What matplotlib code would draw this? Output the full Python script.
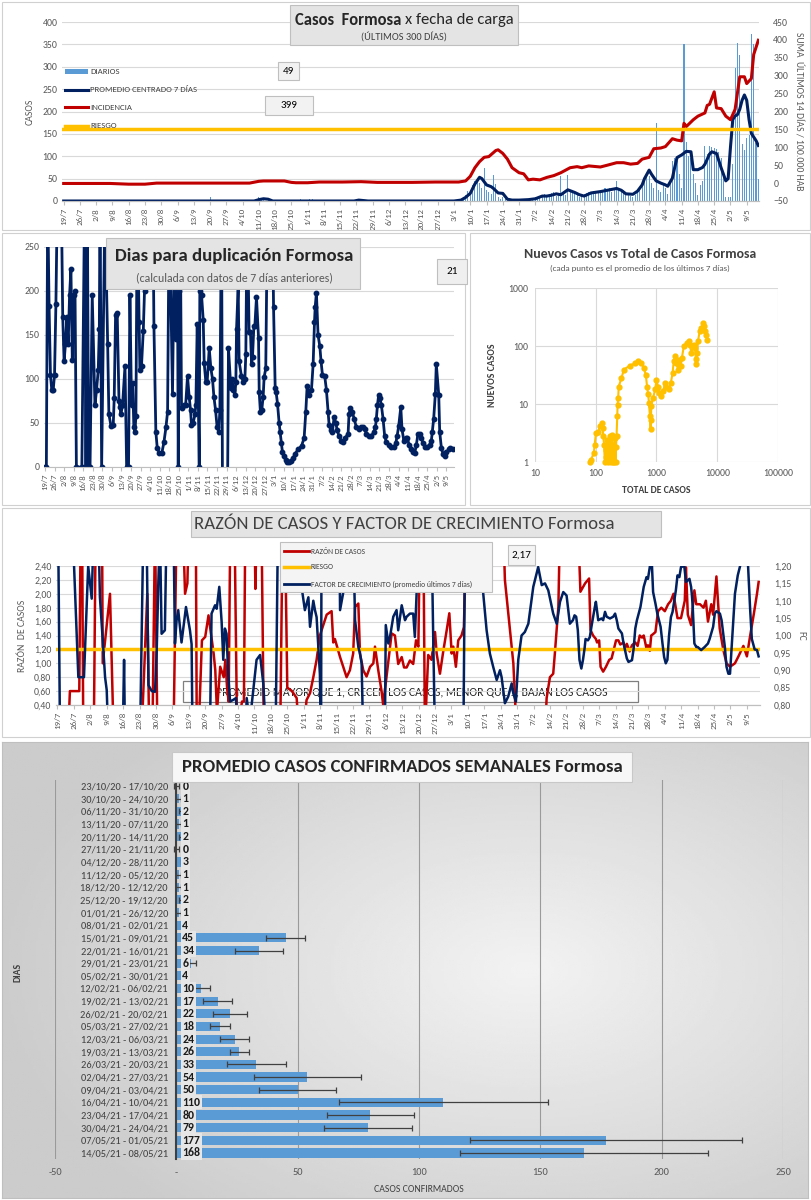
import numpy as np
import pandas as pd
import matplotlib
matplotlib.use("Agg")
import matplotlib.pyplot as plt
from matplotlib.patches import Rectangle
from matplotlib.lines import Line2D
from matplotlib.ticker import NullLocator

plt.rcParams['font.family'] = ['Carlito', 'Lato', 'DejaVu Sans']

# ---------------- datos ----------------
inicio = pd.Timestamp('2020-07-19')
semanas = np.arange(0, 300, 7)
etiquetas_fecha = [f"{d.day}/{d.month}" for d in pd.date_range(inicio, periods=len(semanas), freq='7D')]

# casos diarios (dia desde 19/7)
previos_dia = [63, 84, 85, 86, 102, 106, 107, 126, 150, 158, 163]
previos_val = [8, 10, 6, 3, 4, 5, 4, 5, 3, 3, 2]
diarios_2021 = [0, 1,
                0, 2, 3, 5, 8, 14, 22,
                18, 35, 45, 52, 40, 30, 74,
                25, 20, 15, 57, 37, 8, 5,
                10, 4, 6, 3, 2, 4, 3,
                2, 3, 1, 4, 3, 5, 6,
                8, 6, 10, 12, 15, 9, 14,
                18, 20, 12, 15, 55, 16, 14,
                58, 22, 18, 20, 14, 10, 12,
                15, 18, 20, 16, 22, 20, 18,
                24, 22, 28, 25, 30, 20, 26,
                45, 28, 22, 25, 18, 15, 12,
                10, 14, 20, 30, 45, 50, 60,
                55, 40, 30, 175, 25, 20, 35,
                28, 15, 40, 90, 95, 90, 60,
                30, 350, 132, 101, 95, 60, 40,
                13, 36, 45, 124, 105, 124, 120,
                118, 116, 110, 97, 60, 10, 10,
                10, 82, 297, 354, 327, 128, 115,
                140, 147, 373, 350, 130, 49]

prom_dia = [0, 82, 84, 86, 88, 90, 125, 127, 129, 131, 168, 171, 173, 175, 177, 179, 180, 182, 184, 185,
            187, 189, 191, 193, 196, 200, 203, 206, 208, 210, 212, 214, 217, 220, 222, 224, 227, 231, 234,
            238, 240, 242, 245, 247, 249, 250, 252, 253, 255, 257, 259, 260, 262, 263, 264, 266, 268, 270,
            271, 273, 275, 276, 278, 279, 281, 283, 285, 286, 287, 288, 289, 290, 291, 292, 293, 294, 295,
            296, 297, 298, 299]
prom_val = [0, 0, 3, 5, 4, 0, 0, 2, 1, 0, 0, 2, 8, 17, 38, 53, 50, 36, 32, 28,
            18, 17, 4, 2, 2, 3, 5, 11, 11, 13, 16, 14, 25, 19, 14, 11, 18, 21, 24,
            28, 24, 16, 15, 22, 36, 50, 69, 60, 45, 40, 36, 33, 51, 75, 97, 103, 111, 110,
            70, 70, 75, 82, 105, 110, 106, 74, 45, 50, 120, 182, 190, 193, 205, 225, 237, 225, 182,
            151, 143, 135, 124]

inc_dia = [0, 10, 20, 28, 35, 40, 60, 80, 84, 86, 95, 98, 100, 105, 110, 120, 128, 135, 150, 160, 166,
           170, 173, 175, 177, 179, 181, 183, 186, 187, 189, 191, 193, 196, 198, 200, 202, 205, 208, 211,
           214, 218, 221, 223, 226, 231, 234, 238, 241, 244, 247, 249, 252, 254, 257, 259, 262, 264, 266,
           267, 268, 271, 273, 276, 277, 278, 280, 281, 283, 285, 287, 289, 291, 293, 294, 296, 297, 299]
inc_val = [-1, -1, -1, -3, -3, 0, 0, 0, 5, 6, 6, 2, 1, 1, 3, 3, 4, 2, 2, 3, 3,
           3, 6, 19, 43, 60, 72, 74, 91, 93, 83, 67, 43, 29, 26, 9, 11, 9, 16, 21,
           29, 43, 46, 43, 48, 45, 50, 57, 57, 53, 55, 67, 72, 96, 98, 102, 124, 120, 118,
           167, 158, 177, 187, 196, 217, 220, 255, 210, 208, 187, 177, 206, 297, 297, 278, 292, 359, 399]

# dias para duplicacion
dup_dia = [0, 1, 2, 3, 4, 5, 6, 7, 8, 9, 12, 13, 14, 15, 16, 17, 18, 19, 20, 21, 22, 23, 27, 29, 30, 31,
           32, 33, 34.6, 36.6, 37.8, 39, 39.8, 40.3, 41.5, 43.9, 45.9, 46.8, 48.3, 50, 50.7, 51.7, 52.9,
           54.2, 54.9, 55.6, 56.8, 58.6, 59.8, 61.2, 62.2, 63.4, 64.2, 65.1, 65.9, 66.6, 67.6, 69, 69.5,
           70.7, 72, 72.9, 74, 79, 79.8, 81.2, 82.2, 83.7, 85.6, 87.1, 88.6, 89.8, 91, 93.4, 95.1, 95.6,
           96.4, 97.1, 97.6, 98.3, 99, 100, 101.7, 103, 104.4, 105.6, 106.6, 107.3, 108.6, 109.8, 110.5,
           111.5, 113, 113.4, 114.7, 115.9, 116.6, 117.8, 118.8, 120.3, 121.5, 122.7, 123.7, 124.9, 126.1,
           127.3, 128.1, 129.3, 130, 133.7, 134.4, 136.1, 137.1, 137.8, 139.1, 139.8, 140.3, 141.5, 142.2,
           143.9, 145.2, 146.4, 147.1, 148.1, 149.5, 150.5, 151.3, 152, 153, 153.7, 154.9, 156.4, 156.9,
           157.8, 158.8, 159.8, 160.5, 161.7, 163, 166.6, 167.4, 168.6, 169.3, 170.3, 171.5, 172.2, 173.2,
           173.9, 174.9, 176.4, 177.6, 178.8, 180, 181.8, 183.2, 185.4, 187.9, 189.8, 191, 192, 193.2,
           195.2, 196.4, 197.4, 197.9, 198.8, 200, 201.3, 202.2, 203.2, 204.9, 206.1, 207.4, 208.1, 209.3,
           210.5, 211.8, 213, 214, 215.4, 217.1, 218.3, 220, 222, 222.7, 223.7, 225.2, 226.4, 228.1, 230.1,
           231.8, 233, 234.2, 235.4, 237.4, 239.1, 240.8, 242, 242.7, 243.5, 244.4, 245.4, 246.4, 247.6,
           248.8, 250.1, 252, 253.7, 255.7, 256.9, 257.9, 259.1, 260.6, 261.5, 262.8, 264.2, 265.4, 266.7,
           267.9, 269.6, 270.8, 272, 273.2, 274.5, 275.7, 276.9, 278.6, 280.1, 281.8, 283, 283.7, 284.7,
           285.9, 286.6, 288.4, 289.1, 290.3, 291.5, 292.8, 294, 295.9, 296.9, 298.9]
dup_val = [0, 0, 300, 183, 105, 87, 87, 105, 185, 300, 300, 170, 120, 140, 170, 140, 195, 225, 122, 195,
           200, 0, 0, 300, 0, 300, 0, 0, 195, 70, 88, 110, 157, 300, 0, 300, 140, 60, 47, 48, 78, 173,
           175, 75, 68, 60, 70, 115, 0, 0, 195, 70, 95, 45, 40, 58, 300, 165, 110, 115, 155, 200, 300,
           300, 160, 40, 22, 16, 16, 28, 45, 63, 300, 83, 300, 145, 300, 200, 0, 200, 300, 67, 70, 70,
           103, 80, 65, 48, 50, 60, 70, 162, 0, 200, 195, 167, 118, 97, 97, 135, 112, 100, 80, 65, 45,
           40, 65, 300, -30, -30, 135, 90, 100, 88, 82, 97, 157, 205, 120, 103, 97, 100, 128, 300, 153,
           153, 117, 125, 160, 160, 193, 147, 85, 62, 65, 80, 102, 112, 300, 300, 182, 90, 85, 72, 50,
           40, 27, 17, 12, 8, 6, 6, 7, 10, 15, 20, 24, 33, 62, 92, 82, 88, 117, 165, 182, 198, 150, 137,
           120, 105, 103, 88, 62, 48, 42, 40, 57, 50, 42, 35, 30, 28, 33, 38, 60, 67, 62, 55, 45, 43, 45,
           46, 43, 38, 35, 35, 40, 45, 55, 70, 82, 78, 70, 55, 35, 28, 25, 23, 23, 27, 35, 47, 68, 43, 30,
           33, 33, 25, 20, 17, 16, 25, 38, 38, 33, 27, 23, 23, 25, 30, 40, 55, 83, 117, 82, 40, 22, 15,
           13, 17, 20, 22, 21]

# nuevos casos vs total
total_casos = [80, 84, 93, 96, 101, 110, 117, 125, 130, 133, 137, 141, 145, 150, 155, 160, 165, 170, 175,
               180, 185, 190, 195, 200, 205, 212, 215, 220, 226, 229, 234, 239, 265, 290, 363, 440, 500,
               565, 620, 665, 700, 730, 750, 780, 800, 810, 820, 880, 950, 1000, 1060, 1110, 1200, 1300,
               1370, 1450, 1620, 1720, 1840, 1920, 2000, 2130, 2250, 2330, 2510, 2620, 2820, 3130, 3370,
               3510, 3750, 4100, 4320, 4430, 4540, 4700, 4800, 5150, 5500, 5850, 5950, 6210, 6650, 6800]
nuevos_casos = [1.0, 1.1, 1.45, 2.0, 3.2, 3.3, 4.2, 4.7, 3.8, 2.8, 2.0, 1.0, 1.6, 1.2, 2.4, 1.0, 1.7, 2.8,
                1.0, 1.4, 2.9, 1.0, 2.0, 1.0, 2.6, 1.0, 1.8, 2.8, 6.2, 9.8, 12.8, 20, 28, 39, 46, 50, 55,
                51, 42, 32, 20, 14.6, 10.5, 6.2, 3.7, 5.4, 9.2, 12.8, 17.8, 26, 20, 15.6, 13.7, 16.7, 23,
                20, 18, 23, 34, 55, 67, 51, 39, 58, 46, 63, 99, 113, 120, 106, 76, 106, 93, 59, 48, 76,
                120, 180, 204, 250, 218, 180, 157, 129]

# razon de casos (eje izq.) y factor de crecimiento (eje der.)
razon_dia = [0, 4.6, 5.3, 9.3, 9.9, 10.5, 11, 15.5, 16.3, 19, 19.3, 22.4, 23.9, 35.9, 38.3, 39.1, 40.5,
             41.6, 42.6, 49.5, 50.8, 53.5, 54.4, 55.4, 56, 59, 59.4, 60.5, 61.6, 63, 64.4, 66.6, 67.3,
             68, 69.4, 70.9, 71.6, 72.3, 73, 73.7, 75.5, 76.6, 78.7, 79.5, 80.1, 84, 84.4, 85, 87, 88, 95,
             96, 97, 98, 100, 102, 103, 105, 106.2, 107.7, 109.1, 110.5, 111.9, 114.8, 116.9, 117.6,
             118.3, 120.5, 123.3, 124.7, 126.1, 126.9, 128.3, 129, 130.4, 131.8, 133.3, 134.7, 135.4,
             136.8, 138.2, 138.9, 142.5, 143.9, 145.3, 146.8, 147.8, 148.9, 150.3, 151.7, 152.9, 153.9,
             154.6, 156, 156.7, 158.1, 159.5, 161, 161.7, 163.1, 164.5, 166, 167.1, 168.1, 168.8, 169.9,
             170.9, 172.3, 173.3, 174.5, 190.1, 190.8, 194.4, 195.8, 207.9, 208.6, 210, 211.4, 212.1,
             213.6, 214.3, 222, 223, 225, 226.7, 227.3, 228.4, 229.6, 230.1, 231, 231.6, 232.7, 233.9,
             235.3, 236.3, 237.3, 238.2, 239.2, 240, 241.4, 242.1, 242.8, 244, 245, 246.4, 247.4, 248.3,
             249.3, 250, 251.2, 251.8, 252.6, 253.2, 254, 255, 256.1, 257.5, 259, 260.4, 261.6, 262.7,
             264.4, 265.9, 267.5, 268, 268.8, 270.2, 271.6, 272.4, 274, 275.5, 276.5, 277.4, 278.8, 279.6,
             281, 282.4, 283.9, 285.3, 286.8, 288.9, 290.4, 292.5, 294, 295.4, 296.9, 298.3, 299]
razon_val = [0.0, 0.0, 0.6, 0.6, 3.0, 3.0, 0.0, 0.0, 3.0, 3.0, 1.0, 2.0, 0.0, 0.0, 2.0, 0.0, 0.0,
             3.0, 0.0, 0.0, 3.0, 3.0, 2.0, 2.15, 3.0, 3.0, 0.0, 0.3, 1.33, 1.38, 1.69, 1.14, 0.9,
             0.3, 0.95, 0.8, 1.05, 0.66, 0.45, 3.0, 3.0, 0.0, 0.45, 0.45, 3.0, 3.0, 2.07, 3.0, 3.0, 0.0, 0.0,
             3.0, 3.0, 0.65, 0.6, 0.5, 0.0, 0.0, 0.47, 0.57, 0.8, 1.05, 1.4, 1.7, 1.75, 1.3,
             1.35, 1.09, 0.8, 0.9, 1.14, 1.81, 1.86, 1.14, 0.9, 0.81, 0.95, 1.0, 1.24,
             0.9, 0.6, 0.4, 1.43, 1.4, 0.99, 1.09, 0.94, 0.94, 1.04, 0.99, 1.33, 1.24,
             3.0, 3.0, 0.0, 1.12, 1.05, 1.45, 1.14, 0.85, 1.17, 1.48, 1.72, 1.14, 1.24, 0.95,
             1.33, 1.4, 1.52, 3.0, 3.0, 2.2, 1.0, 0.0, 0.0, 0.5, 0.8, 0.85, 1.14,
             1.81, 3.0, 3.0, 2.03, 2.15, 2.22, 1.48, 1.4, 1.35, 1.3, 1.33, 0.95, 0.88, 0.95,
             1.05, 1.07, 1.21, 1.33, 1.33, 1.27, 1.3, 1.21, 1.28, 1.17, 1.26, 1.3, 1.25, 1.4,
             1.37, 1.4, 1.21, 1.26, 1.18, 1.4, 1.42, 1.45, 1.75, 1.8, 1.75, 1.85, 1.9, 2.0,
             1.65, 1.65, 1.9, 2.38, 1.7, 1.55, 2.05, 1.85, 1.85, 1.8, 1.9, 1.6, 1.85, 1.7,
             2.25, 1.5, 1.2, 1.0, 0.95, 1.0, 1.1, 1.25, 1.1, 1.4, 1.7, 2.0, 2.17]

fc_dia = [0.3, 1.1, 3, 6.5, 8.9, 11.3, 13.1, 14.6, 15, 15.5, 17.5, 18.1, 19.5, 20.3, 21, 21.7, 27.8, 28.4,
          28.8, 35.2, 36.6, 38, 38.8, 40.2, 41.6, 42.3, 43, 43.7, 44.4, 45.8, 46.5, 49.5, 50.1, 50.8, 51.5,
          52.9, 54.8, 56.5, 57.2, 57.6, 65, 65.7, 67.2, 67.9, 69, 70, 70.7, 71.4, 72.1, 72.8, 73.6, 75,
          76.1, 77.1, 80, 80.7, 82, 84.9, 86.4, 87.8, 89, 93, 94, 103.5, 104.1, 105.5, 107, 107.7, 109.1,
          109.8, 110.5, 111.9, 112.4, 112.6, 120.2, 120.5, 121.9, 123.3, 124.7, 125.4, 126.1, 126.9,
          128.3, 129, 129.7, 130.4, 139.6, 140, 141.1, 141.8, 143.2, 144.6, 145.3, 146.8, 148.2, 148.9,
          150.3, 151.7, 152.4, 153.2, 153.4, 159.5, 160.3, 161, 173.1, 173.8, 180.9, 181.3, 183, 184.4,
          185.8, 187.3, 188.7, 189.4, 190.8, 192.2, 193.7, 194.4, 195.5, 196.5, 197.9, 199.3, 200.8,
          202.9, 205, 206.5, 207.9, 209.3, 211.4, 212.9, 214.3, 215.7, 217.1, 218.5, 219.8, 220.5, 221.2,
          221.9, 222.6, 223.4, 224.1, 224.8, 225.2, 226.2, 227, 227.7, 229.1, 229.6, 230.6, 232, 232.7,
          233.5, 234.2, 235.6, 237, 237.8, 238.5, 239.2, 240.7, 241.4, 242.8, 243.5, 245, 245.7, 246.4,
          247.1, 248.6, 250, 251.2, 251.8, 252.6, 253.2, 254, 255, 255.8, 257.2, 258, 258.7, 259.4, 260.1,
          260.8, 261.6, 262.3, 263, 263.7, 264.4, 265.2, 265.9, 267.3, 268, 269.5, 270.2, 270.5, 270.9,
          271.6, 272.4, 273, 274.5, 276, 277.4, 278.1, 279.6, 280.3, 281, 282.5, 283.2, 284.6, 285.3,
          286.1, 286.8, 287.5, 288.2, 288.9, 290.1, 291.1, 292.5, 294, 294.5, 295.4, 296.1, 297.3, 298.3,
          299]
fc_val = [1.3, 0.7, np.nan, 1.3, 0.88, 0.88, 1.2, 1.106, 1.2, 1.3, 1.3, 1.11, 0.967, 0.88, 0.843, 0.7, 0.7,
          0.93, 0.7, 0.7, 1.3, 1.3, 0.857, 0.84, 0.838, 0.95, 1.15, 1.3, 1.005, 1.015, 1.3, 1.3, 0.977,
          1.044, 1.073, 0.98, 1.082, 1.015, 0.975, 0.7, 0.7, 1.063, 1.087, 1.077, 1.14, 1.04, 0.93, 1.02,
          1.005, 0.89, 0.81, 0.815, 0.82, 0.7, 0.7, 0.82, 0.75, 0.93, 0.944, 0.86, 0.7, 0.7, 1.3, 1.3,
          1.14, 1.073, 1.11, 1.025, 1.1, 1.073, 1.053, 0.89, 0.7, 1.3, 1.3, 1.073, 1.125, 1.14, 1.145,
          1.3, 1.3, 1.044, 0.967, 0.948, 0.92, 0.7, 0.7, 1.03, 0.977, 0.996, 1.054, 1.073, 1.015, 1.087,
          1.044, 1.054, 1.063, 1.063, 0.996, 1.13, 1.3, 1.3, 0.967, 0.7, 0.7, 1.3, 1.3, 1.14, 1.015,
          0.948, 0.91, 0.872, 0.9, 0.88, 0.805, 0.824, 0.862, 0.833, 0.81, 0.93, 1.0, 1.01, 1.034, 1.14,
          1.197, 1.145, 1.15, 1.13, 1.063, 1.034, 1.097, 1.125, 1.115, 1.034, 1.044, 1.058, 1.054, 1.015,
          0.93, 0.905, 0.93, 0.964, 0.99, 0.986, 0.995, 1.025, 1.08, 1.097, 1.044, 1.049, 1.044, 1.068,
          1.054, 1.049, 1.054, 1.063, 1.044, 1.02, 1.006, 0.977, 0.934, 0.924, 0.929, 0.962, 1.02, 1.044,
          1.082, 1.14, 1.168, 1.163, 1.197, 1.25, 1.125, 1.092, 1.063, 1.025, 0.977, 0.938, 0.92, 0.93,
          1.0, 1.053, 1.068, 1.1, 1.13, 1.173, 1.168, 1.197, 1.2, 1.154, 1.163, 1.14, 1.12, 1.082, 0.977,
          0.967, 0.967, 0.958, 0.967, 0.977, 0.99, 1.025, 1.063, 1.07, 1.063, 1.044, 0.967, 0.91, 0.89,
          0.89, 0.967, 1.044, 1.12, 1.173, 1.2, 1.3, 1.3, 1.2, 1.073, 0.99, 0.96, 0.958, 0.94]

# promedio semanal
semanas_txt = ["23/10/20 - 17/10/20", "30/10/20 - 24/10/20", "06/11/20 - 31/10/20", "13/11/20 - 07/11/20",
               "20/11/20 - 14/11/20", "27/11/20 - 21/11/20", "04/12/20 - 28/11/20", "11/12/20 - 05/12/20",
               "18/12/20 - 12/12/20", "25/12/20 - 19/12/20", "01/01/21 - 26/12/20", "08/01/21 - 02/01/21",
               "15/01/21 - 09/01/21", "22/01/21 - 16/01/21", "29/01/21 - 23/01/21", "05/02/21 - 30/01/21",
               "12/02/21 - 06/02/21", "19/02/21 - 13/02/21", "26/02/21 - 20/02/21", "05/03/21 - 27/02/21",
               "12/03/21 - 06/03/21", "19/03/21 - 13/03/21", "26/03/21 - 20/03/21", "02/04/21 - 27/03/21",
               "09/04/21 - 03/04/21", "16/04/21 - 10/04/21", "23/04/21 - 17/04/21", "30/04/21 - 24/04/21",
               "07/05/21 - 01/05/21", "14/05/21 - 08/05/21"]
promedios = [0, 1, 2, 1, 2, 0, 3, 1, 1, 2, 1, 4, 45, 34, 6, 4, 10, 17, 22, 18, 24, 26, 33, 54, 50, 110,
             80, 79, 177, 168]
desvios = [1, 1, 1, 1, 1, 1, 1, 1, 1, 1, 1, 1, 8, 10, 2, 1, 4, 6, 7, 4, 6, 4, 12, 22, 16, 43, 18, 18,
           56, 51]

AZUL = '#002060'
ROJO = '#C00000'
ORO = '#FFC000'
CELESTE = '#5B9BD5'
GRIS = '#595959'
GRILLA = '#d9d9d9'

W, H = 812, 1200
fig = plt.figure(figsize=(8.12, 12), dpi=100)


def px(x0, y0, x1, y1):
    return [x0 / W, 1 - y1 / H, (x1 - x0) / W, (y1 - y0) / H]


def caja(x0, y0, x1, y1, fc='#e4e4e4', ec='#bfbfbf', lw=0.8, fill=True):
    fig.add_artist(Rectangle((x0 / W, 1 - y1 / H), (x1 - x0) / W, (y1 - y0) / H,
                             transform=fig.transFigure, fc=fc, ec=ec, lw=lw, fill=fill))


def texto(x, y, s, **kw):
    kw.setdefault('va', 'center')
    return fig.text(x / W, 1 - y / H, s, **kw)


def item(x0, x1, y, color, lw, txt, size):
    fig.add_artist(Line2D([x0 / W, x1 / W], [1 - y / H] * 2, color=color, lw=lw,
                          transform=fig.transFigure))
    texto(x1 + 2, y, txt, fontsize=size, color='#404040')


def eje_fechas(ax, size=6.5):
    ax.set_xlim(-0.5, 299.5)
    ax.set_xticks(semanas)
    ax.set_xticklabels(etiquetas_fecha, rotation=90, fontsize=size, color=GRIS)
    ax.tick_params(axis='x', length=3, color='#bfbfbf', pad=2)
    ax.tick_params(axis='y', length=0, labelsize=7, labelcolor=GRIS)
    for s in ['top', 'left', 'right']:
        ax.spines[s].set_visible(False)
    ax.spines['bottom'].set_color('#bfbfbf')


# marcos
for r in [(2, 2, 810, 230), (2, 233, 465, 505), (470, 233, 810, 505), (2, 508, 810, 737)]:
    caja(*r, ec='#d0d0d0', fill=False)

# ---------------- panel 1 ----------------
diarios = np.zeros(166)
diarios[previos_dia] = previos_val
diarios = np.concatenate([diarios, diarios_2021])

ax1 = fig.add_axes(px(62.5, 22, 759.5, 201))
ax1.bar(np.arange(300), diarios, width=0.45, color=CELESTE, zorder=2)
ax1.plot(prom_dia, prom_val, color=AZUL, lw=2.2, zorder=3)
ax1.set_ylim(0, 400)
ax1.set_yticks(range(0, 401, 50))
ax1.grid(axis='y', color=GRILLA, lw=0.8, zorder=0)
ax1.set_axisbelow(True)
eje_fechas(ax1)
ax1.set_ylabel('CASOS', fontsize=7, color=GRIS, labelpad=6)

ax1b = ax1.twinx()
ax1b.plot(inc_dia, inc_val, color=ROJO, lw=2.2)
ax1b.axhline(150, color=ORO, lw=2.5)
ax1b.set_ylim(-50, 450)
ax1b.set_yticks(range(-50, 451, 50))
eje_fechas(ax1b)
ax1b.tick_params(axis='y', length=0, labelsize=7, labelcolor=GRIS, pad=10)
ax1b.set_ylabel('SUMA  ÚLTIMOS 14 DÍAS / 100.000 HAB', fontsize=7, color=GRIS, rotation=270, labelpad=10)

caja(290, 5, 518, 45)
t1 = texto(295, 20, 'Casos  Formosa', fontsize=12, fontweight='bold', color='#262626', ha='left')
fig.canvas.draw()
bb = t1.get_window_extent(fig.canvas.get_renderer())
texto(bb.x1 + 4, 20, 'x fecha de carga', fontsize=12, color='#262626', ha='left')
texto(404, 37, '(ÚLTIMOS 300 DÍAS)', fontsize=7.5, color='#404040', ha='center')

fig.add_artist(Rectangle((65 / W, 1 - 74 / H), 23 / W, 5 / H, transform=fig.transFigure, fc=CELESTE, ec='none'))
texto(90, 71, 'DIARIOS', fontsize=6.3, color='#404040')
item(65, 88, 90, AZUL, 2.2, 'PROMEDIO CENTRADO 7 DÍAS', 6.3)
item(65, 88, 107, ROJO, 2.2, 'INCIDENCIA', 6.3)
item(65, 88, 126, ORO, 2.5, 'RIESGO', 6.3)
caja(278, 62, 299, 80, fc='#f2f2f2')
texto(288.5, 71, str(int(diarios[-1])), fontsize=8, ha='center')
caja(265, 96, 313, 115, fc='#f2f2f2')
texto(289, 105.5, str(inc_val[-1]), fontsize=8, ha='center')

# ---------------- panel 2 ----------------
ax2 = fig.add_axes(px(44.3, 247, 453.9, 467))
ax2.plot(dup_dia, dup_val, color=AZUL, lw=2, marker='o', ms=3.2)
ax2.set_ylim(0, 250)
ax2.set_yticks(range(0, 251, 50))
ax2.grid(axis='y', color=GRILLA, lw=0.8)
ax2.set_axisbelow(True)
eje_fechas(ax2, size=6.2)
caja(106, 238, 360, 289)
texto(234, 256, 'Dias para duplicación Formosa', fontsize=13.5, fontweight='bold', color='#262626', ha='center')
texto(234, 278, '(calculada con datos de 7 días anteriores)', fontsize=8.5, color=GRIS, ha='center')
caja(437, 259, 467, 284, fc='#efefef')
texto(452, 271, str(dup_val[-1]), fontsize=8, ha='center')

# ---------------- panel 3 ----------------
ax3 = fig.add_axes(px(535, 288, 778, 462))
ax3.set_xscale('log')
ax3.set_yscale('log')
ax3.plot(total_casos, nuevos_casos, color=ORO, lw=1.5, marker='o', ms=3.5, clip_on=False)
ax3.set_xlim(10, 1e5)
ax3.set_ylim(1, 1000)
ax3.xaxis.set_minor_locator(NullLocator())
ax3.yaxis.set_minor_locator(NullLocator())
ax3.set_xticks([10, 100, 1000, 10000, 100000])
ax3.set_xticklabels(['10', '100', '1000', '10000', '100000'])
ax3.set_yticks([1, 10, 100, 1000])
ax3.set_yticklabels(['1', '10', '100', '1000'])
ax3.tick_params(length=0, labelsize=7, labelcolor=GRIS, pad=5)
ax3.grid(True, color=GRILLA, lw=0.8)
ax3.set_axisbelow(True)
for s in ax3.spines.values():
    s.set_visible(False)
ax3.set_xlabel('TOTAL DE CASOS', fontsize=7, fontweight='bold', color='#404040', labelpad=6)
ax3.set_ylabel('NUEVOS CASOS', fontsize=7, fontweight='bold', color='#404040', labelpad=8)
texto(640, 254, 'Nuevos Casos vs Total de Casos Formosa', fontsize=10, fontweight='bold', color='#404040', ha='center')
texto(640, 268, '(cada punto es el promedio de los últimos 7 días)', fontsize=6.5, color=GRIS, ha='center')

# ---------------- panel 4 ----------------
ax4 = fig.add_axes(px(56.3, 566, 759.8, 705))
ax4.add_patch(Rectangle((53.5, 0.45), 194, 0.29, fill=False, ec='#7f7f7f', lw=0.9, zorder=1))
ax4.text(151, 0.595, 'PROMEDIO MAYOR QUE 1, CRECEN LOS CASOS, MENOR QUE 1, BAJAN LOS CASOS',
         fontsize=8.5, color='#262626', ha='center', va='center', zorder=1)
ax4.plot(razon_dia, razon_val, color=ROJO, lw=1.8, zorder=3)
ax4.axhline(1.2, color=ORO, lw=2.5, zorder=4)
ax4.set_ylim(0.4, 2.4)
yt = np.round(np.arange(0.4, 2.41, 0.2), 2)
ax4.set_yticks(yt)
ax4.set_yticklabels([f"{v:.2f}".replace('.', ',') for v in yt])
ax4.grid(axis='y', color=GRILLA, lw=0.8, zorder=0)
eje_fechas(ax4)
ax4.set_ylabel('RAZÓN  DE CASOS', fontsize=7, color=GRIS, labelpad=5)

ax4b = ax4.twinx()
ax4b.plot(fc_dia, fc_val, color=AZUL, lw=1.8)
ax4b.set_ylim(0.8, 1.2)
yt2 = np.round(np.arange(0.8, 1.201, 0.05), 2)
ax4b.set_yticks(yt2)
ax4b.set_yticklabels([f"{v:.2f}".replace('.', ',') for v in yt2])
eje_fechas(ax4b)
ax4b.tick_params(axis='y', length=0, labelsize=7, labelcolor=GRIS, pad=10)
ax4b.set_ylabel('FC', fontsize=7, color=GRIS, rotation=270, labelpad=10)

caja(191, 511, 661, 537)
texto(194, 524, 'RAZÓN DE CASOS Y FACTOR DE CRECIMIENTO Formosa', fontsize=13.5, color='#404040', ha='left')
caja(280, 542, 492, 592, fc='#f4f4f4')
item(284, 309, 551, ROJO, 2, 'RAZÓN DE CASOS', 5.5)
item(284, 309, 567, ORO, 2.5, 'RIESGO', 5.5)
item(284, 309, 584, AZUL, 2, 'FACTOR DE CRECIMIENTO (promedio últimos 7 días)', 5.5)
caja(508, 545, 535, 565, fc='#f4f4f4')
texto(521.5, 555, f"{razon_val[-1]:.2f}".replace('.', ','), fontsize=8, ha='center')

# ---------------- panel 5 ----------------
axf = fig.add_axes(px(2, 742, 808, 1198), zorder=-1)
gx, gy = np.meshgrid(np.linspace(-1, 1, 300), np.linspace(-1, 1, 200))
r = np.clip(np.sqrt(((gx - 0.3) / 1.3) ** 2 + (gy / 1.4) ** 2), 0, 1)
axf.imshow(0.95 - 0.15 * r, cmap='gray', vmin=0, vmax=1, aspect='auto')
axf.set_xticks([])
axf.set_yticks([])
for s in axf.spines.values():
    s.set_color('#bfbfbf')

ax5 = fig.add_axes(px(55, 779.7, 783, 1159.3))
ax5.patch.set_alpha(0)
ypos = np.arange(len(promedios))
ax5.barh(ypos, promedios, height=0.72, color=CELESTE, zorder=3,
         xerr=desvios, error_kw=dict(ecolor='#404040', elinewidth=0.9, capsize=2.5, capthick=0.9, zorder=4))
for y, v in zip(ypos, promedios):
    ax5.text(2.5, y, str(v), fontsize=8.5, fontweight='bold', color='#1a1a1a', va='center', ha='left',
             zorder=5, bbox=dict(fc='#e6e6e6', ec='none', pad=1))
ax5.set_xlim(-50, 250)
ax5.set_ylim(len(promedios) - 0.5, -0.5)
ax5.set_xticks(range(-50, 251, 50))
ax5.set_xticklabels(['-50', '-', '50', '100', '150', '200', '250'])
ax5.set_yticks(ypos)
ax5.set_yticklabels(semanas_txt)
ax5.tick_params(axis='x', length=0, labelsize=7.5, labelcolor=GRIS, pad=6)
ax5.tick_params(axis='y', length=0, labelsize=7.5, labelcolor='#404040', pad=6)
ax5.grid(axis='x', color='#9a9a9a', lw=0.8, zorder=0)
ax5.axvline(-50, color='#808080', lw=1.2, zorder=1)
for s in ['top', 'right', 'bottom']:
    ax5.spines[s].set_visible(False)
ax5.spines['left'].set_position(('data', 0))
ax5.spines['left'].set_color('#404040')
ax5.spines['left'].set_linewidth(1.5)
ax5.spines['left'].set_zorder(6)
ax5.set_xlabel('CASOS CONFIRMADOS', fontsize=7, color='#404040', labelpad=6)
texto(18, 972, 'DIAS', fontsize=7, fontweight='bold', color='#404040', rotation=90, ha='center')
caja(172, 752, 632, 782, fc='#f7f7f7', ec='#c8c8c8')
texto(402, 767, 'PROMEDIO CASOS CONFIRMADOS SEMANALES Formosa', fontsize=13.5, fontweight='bold',
      color='#262626', ha='center')

fig.savefig('out.png', dpi=100)
